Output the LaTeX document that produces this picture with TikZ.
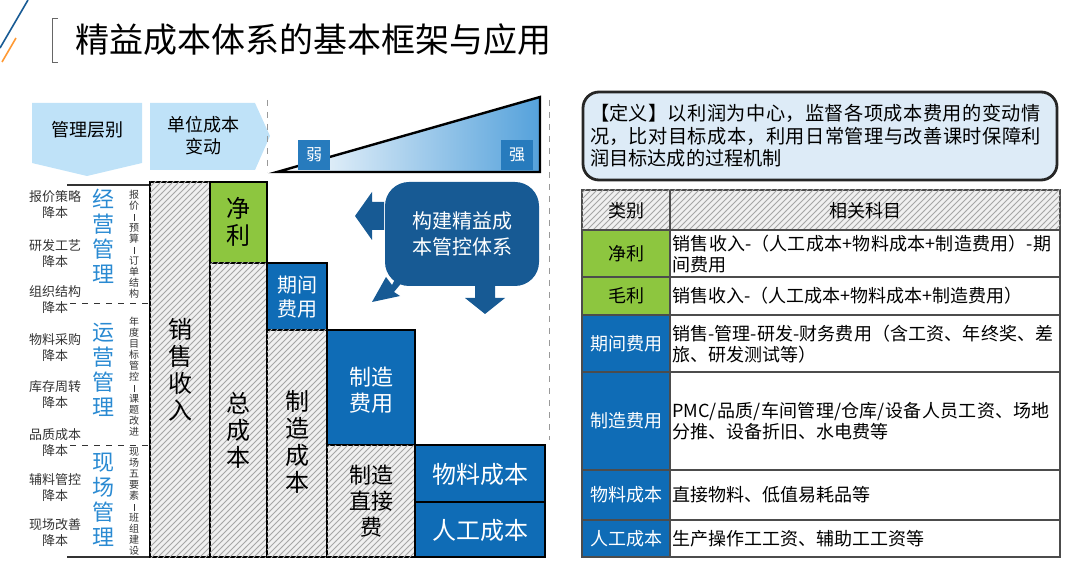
\documentclass[tikz,border=0pt]{standalone}
\usepackage{fontspec}
\setmainfont{Noto Sans CJK SC}
\XeTeXlinebreaklocale "zh"
\XeTeXlinebreakskip = 0pt plus 1pt
\usetikzlibrary{patterns,shapes.arrows}
\definecolor{darkblue}{HTML}{0F6CB6}
\definecolor{navyblue}{HTML}{175A94}
\definecolor{leafgreen}{HTML}{8DC63F}
\definecolor{paleblue}{HTML}{BFE2F8}
\definecolor{textblue}{HTML}{2A8AD2}
\definecolor{defbg}{HTML}{DDEBF7}
\newcommand{\vbar}{\rule[-0.3pt]{0.4pt}{3.5pt}}
\tikzset{
  hatchbox/.style={draw=black,line width=1.2pt,fill=gray!12,
    postaction={pattern=north east lines,pattern color=gray!70}},
  bluebox/.style={draw=black,line width=1.2pt,fill=darkblue,text=white},
  greenbox/.style={draw=black,line width=1.2pt,fill=leafgreen},
  blocktext/.style={font=\fontsize{12}{13.5}\selectfont,align=center},
  sidetext/.style={font=\fontsize{6.5}{8}\selectfont,align=center,text=black!80},
  levelname/.style={font=\fontsize{11}{12.5}\selectfont,align=center,text=textblue},
  smallcol/.style={font=\fontsize{5}{5.5}\selectfont,align=center,text=black!80},
  cell/.style={draw=black!70,line width=0.6pt},
  celltext/.style={font=\fontsize{9}{10.5}\selectfont,align=left,anchor=west,inner xsep=1pt},
}
\begin{document}
\begin{tikzpicture}[x=0.5pt,y=-0.5pt]
  \useasboundingbox (0,0) rectangle (1080,571);
  % corner strokes and title
  \draw[navyblue,thick] (0,48) -- (28,0);
  \draw[orange!80,thick] (2,62) -- (16,38);
  \draw[black!60] (58,18) -- (52,18) -- (52,62) -- (58,62);
  \node[anchor=west,font=\fontsize{17}{18}\selectfont] (title) at (68,40) {精益成本体系的基本框架与应用};
  % header arrows
  \fill[paleblue] (32,103) -- (142,103) -- (142,163) -- (87,176) -- (32,163) -- cycle;
  \node[font=\fontsize{9}{10}\selectfont] (level) at (87,130) {管理层别};
  \fill[paleblue] (150,103) -- (255,103) -- (270,136) -- (255,170) -- (150,170) -- cycle;
  \node[font=\fontsize{9}{11}\selectfont,align=center] (unit) at (203,136) {单位成本\\变动};
  \draw[black!40,dashed] (267,100) -- (267,172);
  \draw[black!40,dashed] (549,100) -- (549,440);
  % strength triangle
  \shade[left color=white,right color=textblue!80,draw=black,line width=1.2pt]
    (277,172) -- (540,97) -- (540,172) -- cycle;
  \node[fill=darkblue!90,text=white,font=\fontsize{8}{9}\selectfont,minimum width=16pt,minimum height=15pt] (weak) at (314,155) {弱};
  \node[fill=darkblue!90,text=white,font=\fontsize{8}{9}\selectfont,minimum width=16pt,minimum height=15pt] (strong) at (517,155) {强};
  % level separators
  \draw[black!80,line width=0.8pt] (67,185) -- (150,185);
  \draw[black!80,dashed] (70,303) -- (150,303);
  \draw[black!80,dashed] (70,445) -- (150,445);
  \draw[black!80,line width=0.8pt] (67,557) -- (150,557);
  \foreach \name/\y in {报价策略/205,研发工艺/254,组织结构/300,物料采购/348,
                        库存周转/395,品质成本/443,辅料管控/488,现场改善/533}{
    \node[sidetext] at (55,\y) {\name\\降本};
  }
  \node[levelname] (biz) at (103,236) {经\\营\\管\\理};
  \node[levelname] (ops) at (103,370) {运\\营\\管\\理};
  \node[levelname] (site) at (103,500) {现\\场\\管\\理};
  \node[smallcol] (c1) at (134,244) {报\\价\\\vbar\\预\\算\\\vbar\\订\\单\\结\\构};
  \node[smallcol] (c2) at (134,377) {年\\度\\目\\标\\管\\控\\\vbar\\课\\题\\改\\进};
  \node[smallcol] (c3) at (134,501) {现\\场\\五\\要\\素\\\vbar\\班\\组\\建\\设};
  % cost blocks
  \draw[hatchbox] (150,182) rectangle (210,557);
  \node[blocktext] (sales) at (180,370) {销\\售\\收\\入};
  \draw[greenbox] (210,182) rectangle (267,263);
  \node[blocktext] (net) at (238,222) {净\\利};
  \draw[hatchbox] (210,263) rectangle (267,557);
  \node[blocktext] (total) at (238,430) {总\\成\\本};
  \draw[bluebox] (267,263) rectangle (327,330);
  \node[blocktext,text=white,font=\fontsize{10}{12}\selectfont] (period) at (297,297) {期间\\费用};
  \draw[hatchbox] (267,330) rectangle (327,557);
  \node[blocktext] (mfg) at (297,442) {制\\造\\成\\本};
  \draw[bluebox] (327,330) rectangle (415,445);
  \node[blocktext,text=white,font=\fontsize{11}{13}\selectfont] (overhead) at (371,390) {制造\\费用};
  \draw[hatchbox] (327,445) rectangle (415,557);
  \node[blocktext,font=\fontsize{11}{13}\selectfont] (direct) at (371,501) {制造\\直接\\费};
  \draw[bluebox] (415,445) rectangle (545,502);
  \node[blocktext,text=white] (material) at (480,474) {物料成本};
  \draw[bluebox] (415,502) rectangle (545,557);
  \node[blocktext,text=white] (labour) at (480,530) {人工成本};
  % callout with arrows
  \fill[navyblue] (384,202) -- (372,202) -- (372,192) -- (355,216) -- (372,240) -- (372,230) -- (384,230) -- cycle;
  \fill[navyblue] (400,270) -- (392,285) -- (386,277) -- (372,302) -- (400,296) -- (394,292) -- (408,275) -- cycle;
  \fill[navyblue] (475,285) -- (475,298) -- (465,298) -- (485,314) -- (505,298) -- (495,298) -- (495,285) -- cycle;
  \node[fill=navyblue,rounded corners=12pt,text=white,minimum width=77pt,minimum height=52pt,
        font=\fontsize{10}{13}\selectfont,align=center] (build) at (462,234) {构建精益成\\本管控体系};
  % definition box
  \node[draw=black!85,line width=1.4pt,fill=defbg,rounded corners=8pt,minimum width=237pt,
        minimum height=44pt,text width=230pt,align=left,font=\fontsize{9.6}{11.2}\selectfont] (def) at (820,136)
        {【定义】以利润为中心，监督各项成本费用的变动情况，比对目标成本，利用日常管理与改善课时保障利润目标达成的过程机制};
  % table
  \draw[cell,fill=gray!12,postaction={pattern=north east lines,pattern color=gray!70}] (582,190) rectangle (1060,230);
  \draw[cell,fill=leafgreen] (582,230) rectangle (670,315);
  \draw[cell,fill=darkblue] (582,315) rectangle (670,557);
  \foreach \ya/\yb in {230/277,277/315,315/372,372/470,470/520,520/557}{
    \draw[cell] (582,\ya) rectangle (670,\yb);
    \draw[cell,fill=white] (670,\ya) rectangle (1060,\yb);
  }
  \draw[cell] (670,190) -- (670,230);
  \node[font=\fontsize{9}{10}\selectfont] (hcat) at (626,211) {类别};
  \node[font=\fontsize{9}{10}\selectfont] (hitem) at (865,211) {相关科目};
  \node[font=\fontsize{9}{10}\selectfont] (rnet) at (626,254) {净利};
  \node[font=\fontsize{9}{10}\selectfont] (rgross) at (626,296) {毛利};
  \foreach \t/\y in {期间费用/344,制造费用/421,物料成本/495,人工成本/539}{
    \node[font=\fontsize{9}{10}\selectfont,text=white] at (626,\y) {\t};
  }
  \node[celltext,text width=192pt] (tnet) at (670,254) {销售收入-（人工成本+物料成本+制造费用）-期间费用};
  \node[celltext] (tgross) at (670,296) {销售收入-（人工成本+物料成本+制造费用）};
  \node[celltext,text width=192pt] (tperiod) at (670,344) {销售-管理-研发-财务费用（含工资、年终奖、差旅、研发测试等）};
  \node[celltext,text width=192pt] (tover) at (670,421) {PMC/品质/车间管理/仓库/设备人员工资、场地分推、设备折旧、水电费等};
  \node[celltext] (tmat) at (670,495) {直接物料、低值易耗品等};
  \node[celltext] (tlab) at (670,539) {生产操作工工资、辅助工工资等};
\end{tikzpicture}
\end{document}
